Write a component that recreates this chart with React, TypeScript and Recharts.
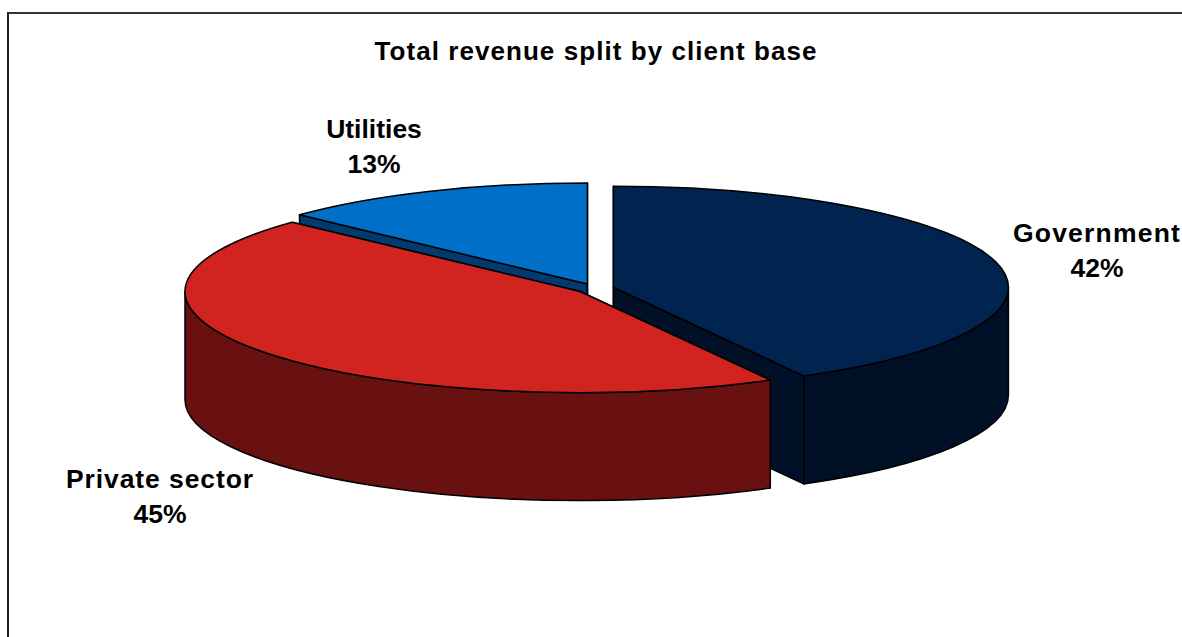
import React from 'react';
import { PieChart, Pie } from 'recharts';

// Listed back to front so the slices paint over one another correctly
const clients = ['Utilities', 'Government', 'Private sector'];
const shares = [13, 42, 45];

const topColors = ['#006fc8', '#00234f', '#d1231f'];
const sideColors = ['#003a6e', '#001026', '#691111'];

const chartData = clients.map((name, i) => ({
    name,
    value: shares[i],
    fill: topColors[i],
    side: sideColors[i],
}));

// Text placement for each slice label: centre x, first baseline, tracking
const labelLayout: Record<string, { x: number; y: number; spacing: number }> = {
    Utilities: { x: 374, y: 138, spacing: 0 },
    Government: { x: 1097, y: 242, spacing: 1.2 },
    'Private sector': { x: 160, y: 488, spacing: 0.9 },
};

const TILT = 0.256; // vertical squash of the pie disc
const DEPTH = 108; // height of the extruded wall
const EXPLODE = 19; // distance each slice is pulled from the centre
const FONT = '"Liberation Sans", Arial, sans-serif';

const rad = (deg: number) => (deg * Math.PI) / 180;

// Draws one slice as a tilted, extruded wedge from the angles the Pie computed
const Slice3D = (props: any) => {
    const { cx, cy, outerRadius: r, startAngle, endAngle, fill, payload } = props;
    const from = 90 - startAngle; // clockwise from twelve o'clock
    const to = 90 - endAngle;
    const mid = (from + to) / 2;
    const ox = cx + EXPLODE * Math.sin(rad(mid));
    const oy = cy - EXPLODE * TILT * Math.cos(rad(mid));
    const ry = r * TILT;
    const side = payload?.side ?? props.side;

    const pt = (a: number, h = 0) =>
        `${(ox + r * Math.sin(rad(a))).toFixed(2)} ${(oy - ry * Math.cos(rad(a)) + h).toFixed(2)}`;
    const arc = (end: number, large: boolean, sweep: number, h = 0) =>
        `A ${r} ${ry} 0 ${large ? 1 : 0} ${sweep} ${pt(end, h)}`;
    const cut = (a: number) => `M ${ox} ${oy} L ${pt(a)} L ${pt(a, DEPTH)} L ${ox} ${oy + DEPTH} Z`;

    const lo = Math.max(from, 90);
    const hi = Math.min(to, 270);
    const wall =
        lo < hi ? `M ${pt(lo)} ${arc(hi, false, 1)} L ${pt(hi, DEPTH)} ${arc(lo, false, 0, DEPTH)} Z` : null;

    const line = { stroke: '#000', strokeWidth: 1.5, strokeLinejoin: 'round' as const };
    return (
        <g>
            <path d={cut(from)} fill={side} {...line} />
            <path d={cut(to)} fill={side} {...line} />
            {wall && <path d={wall} fill={side} {...line} />}
            <path d={`M ${ox} ${oy} L ${pt(from)} ${arc(to, to - from > 180, 1)} Z`} fill={fill} {...line} />
        </g>
    );
};

const SliceLabel = (props: any) => {
    const place = labelLayout[props.name];
    return (
        <text
            textAnchor="middle"
            fontFamily={FONT}
            fontWeight="bold"
            fontSize={26.5}
            fill="#000"
        >
            <tspan x={place.x} y={place.y} letterSpacing={place.spacing}>{props.name}</tspan>
            <tspan x={place.x} y={place.y + 35}>{`${props.value}%`}</tspan>
        </text>
    );
};

export default function App() {
    return (
        <div style={{ position: 'absolute', left: 0, top: 0, width: 1182, height: 637, background: '#fff', overflow: 'hidden' }}>
            <div
                style={{
                    position: 'absolute',
                    left: 7,
                    top: 12,
                    width: 1175,
                    height: 625,
                    borderTop: '2px solid #333',
                    borderLeft: '2px solid #222',
                }}
            />
            <PieChart
                width={1182}
                height={637}
                margin={{ top: 0, right: 0, bottom: 0, left: 0 }}
                style={{ position: 'absolute', left: 0, top: 0 }}
            >
                <text x={596} y={60} textAnchor="middle" fontFamily={FONT} fontWeight="bold" fontSize={26} letterSpacing={1.06} fill="#000">
                    Total revenue split by client base
                </text>
                <Pie
                    data={chartData}
                    dataKey="value"
                    nameKey="name"
                    cx={595}
                    cy={288.5}
                    innerRadius={0}
                    outerRadius={395}
                    startAngle={136.8}
                    endAngle={-223.2}
                    stroke="none"
                    shape={Slice3D}
                    activeShape={Slice3D}
                    inactiveShape={Slice3D}
                    label={SliceLabel}
                    labelLine={false}
                    isAnimationActive={false}
                />
            </PieChart>
        </div>
    );
}
